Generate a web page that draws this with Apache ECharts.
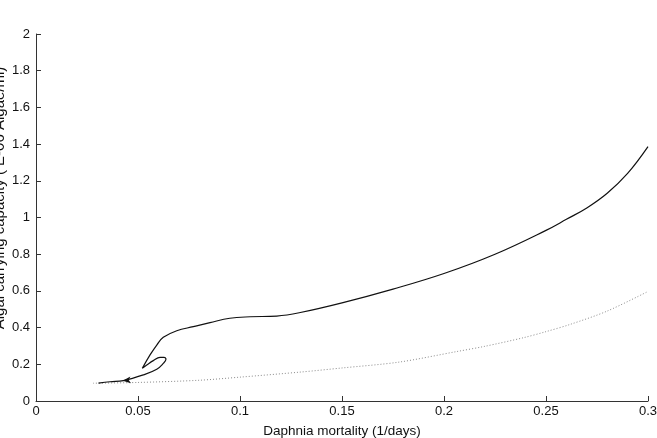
<!DOCTYPE html>
<html>
<head>
<meta charset="utf-8">
<script src="https://cdn.jsdelivr.net/npm/echarts@6/dist/echarts.min.js"></script>
<style>
  html, body { margin: 0; padding: 0; background: #fff; }
  #chart { width: 657px; height: 438px; }
</style>
</head>
<body>
<div id="chart"></div>
<script>
// branch traced along the continuation (x goes back and forth in the fold)
const solidX = [0.0306, 0.0363, 0.0428, 0.0526, 0.0592, 0.0624, 0.0637, 0.0627, 0.0608, 0.0575, 0.0543, 0.0521,
  0.0559, 0.0592, 0.0624, 0.069, 0.0771, 0.0853, 0.095, 0.105, 0.118, 0.129, 0.15, 0.175,
  0.2, 0.225, 0.25, 0.26, 0.27, 0.28, 0.29, 0.3]
const solidY = [0.097, 0.105, 0.111, 0.142, 0.173, 0.205, 0.227, 0.238, 0.238, 0.220, 0.196, 0.178,
  0.251, 0.305, 0.347, 0.383, 0.405, 0.427, 0.451, 0.459, 0.463, 0.481, 0.535, 0.61,
  0.695, 0.80, 0.93, 0.99, 1.052, 1.132, 1.24, 1.386]

const dottedX = [0.028, 0.05, 0.08, 0.1, 0.13, 0.15, 0.178, 0.206, 0.22, 0.239, 0.25, 0.262, 0.28, 0.3]
const dottedY = [0.097, 0.101, 0.113, 0.13, 0.158, 0.18, 0.212, 0.269, 0.298, 0.345, 0.378, 0.418, 0.49, 0.597]

const xTicks = [0, 0.05, 0.1, 0.15, 0.2, 0.25, 0.3]
const yTicks = [0, 0.2, 0.4, 0.6, 0.8, 1, 1.2, 1.4, 1.6, 1.8, 2]

const FONT = 'Liberation Sans'

let chart = echarts.init(document.getElementById('chart'))

let axisCommon = {
  type: 'value',
  axisLine: { show: true, lineStyle: { color: '#333', width: 1 } },
  axisTick: { show: true, inside: true, length: 5, lineStyle: { color: '#333' } },
  splitLine: { show: false },
  axisLabel: { color: '#111', fontFamily: FONT, fontSize: 13 }
}

chart.setOption({
  backgroundColor: '#fff',
  animation: false,
  grid: {
    left: 36,
    right: 9,
    top: 34,
    bottom: 37,
    containLabel: false,
    outerBoundsMode: 'none'
  },
  xAxis: Object.assign({}, axisCommon, {
    min: xTicks[0],
    max: xTicks[xTicks.length - 1],
    interval: 0.05,
    name: 'Daphnia mortality (1/days)',
    nameLocation: 'middle',
    nameGap: 23,
    nameTextStyle: { color: '#111', fontFamily: FONT, fontSize: 13.5 },
    axisLabel: Object.assign({}, axisCommon.axisLabel, {
      margin: 4,
      formatter: v => String(Math.round(v * 100) / 100)
    })
  }),
  yAxis: Object.assign({}, axisCommon, {
    min: yTicks[0],
    max: yTicks[yTicks.length - 1],
    interval: 0.2,
    axisLabel: Object.assign({}, axisCommon.axisLabel, {
      margin: 6,
      formatter: v => String(Math.round(v * 10) / 10)
    })
  }),
  graphic: [
    {
      type: 'text',
      x: 0,
      y: 198,
      rotation: Math.PI / 2,
      style: {
        text: 'Algal carrying capacity ( E-06 Algae/ml)',
        fill: '#111',
        font: '15px "Liberation Sans"',
        align: 'center',
        verticalAlign: 'middle'
      }
    }
  ],
  series: [
    {
      type: 'line',
      data: dottedX.map((x, i) => [x, dottedY[i]]),
      showSymbol: false,
      smooth: 0.3,
      lineStyle: { color: '#8a8a8a', width: 1, type: [1, 2] }
    },
    {
      type: 'line',
      data: solidX.map((x, i) => [x, solidY[i]]),
      showSymbol: false,
      smooth: 0.4,
      lineStyle: { color: '#111', width: 1.2 },
      markPoint: {
        symbol: 'arrow',
        symbolSize: [5, 8],
        symbolRotate: 95,
        itemStyle: { color: '#111' },
        label: { show: false },
        data: [{ coord: [0.0425, 0.111] }]
      }
    }
  ]
})
</script>
</body>
</html>
